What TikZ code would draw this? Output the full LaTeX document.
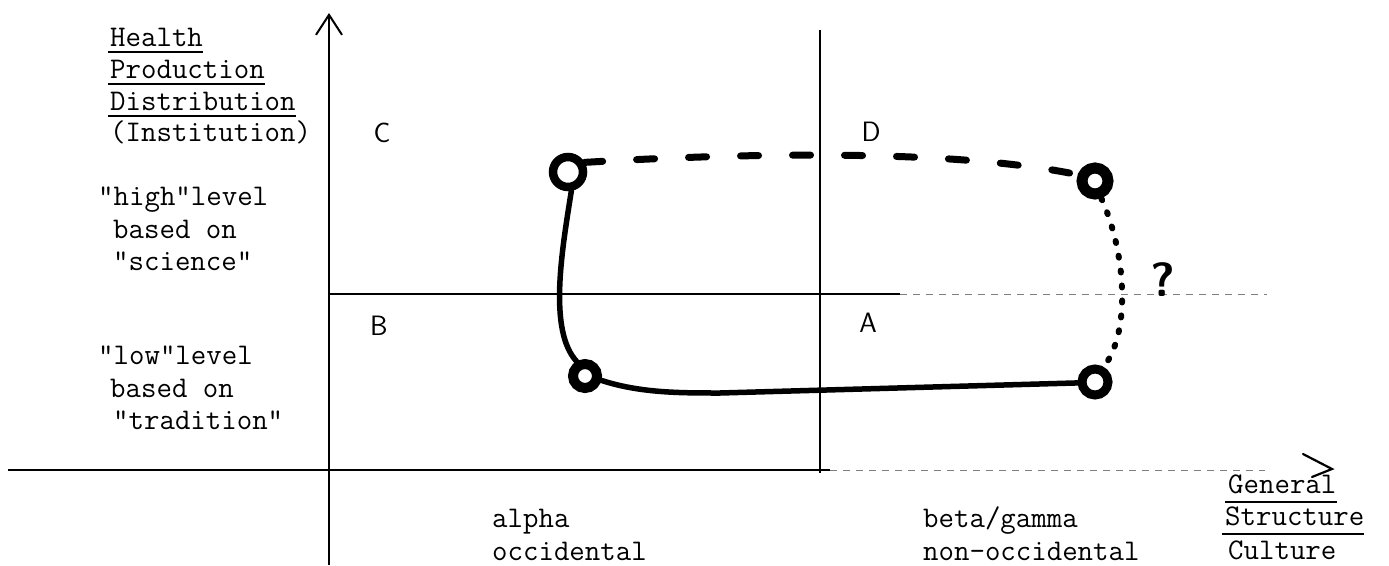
\documentclass[tikz,border=0pt]{standalone}
\usetikzlibrary{arrows.meta, calc}

\begin{document}
\begin{tikzpicture}[x=1pt, y=-1pt,
    axis/.style={line width=2.2pt, black},
    grid/.style={line width=1.3pt, black},
    faint/.style={line width=1pt, black!50, dash pattern=on 7pt off 6pt},
    txt/.style={anchor=base west, inner sep=0pt, font=\fontsize{30}{32}\selectfont\ttfamily},
    uline/.style={line width=1.6pt},
    quad/.style={inner sep=0pt, font=\fontsize{28}{28}\selectfont\sffamily},
    ring/.style={circle, draw, inner sep=0pt, minimum size=#1},
    solidlink/.style={line width=5.5pt, line cap=round},
    dashlink/.style={line width=7pt, line cap=round, dash pattern=on 18pt off 34pt},
    dotlink/.style={line width=6pt, line cap=round, dash pattern=on 2pt off 13pt}
]
\path[use as bounding box, fill=white] (0,0) rectangle (1389,565);

% Axes
\draw[axis, -{Straight Barb[length=20pt, width=26pt, line width=2pt]}] (329,565) -- (329,13);
\draw[axis] (8,470) -- (830,470);
\draw[faint] (830,470) -- (1265,470);
\draw[axis, line cap=round] (1303,454) -- (1332,469) -- (1312,477);

% Quadrant lines
\draw[grid] (820,30) -- (820,473);
\draw[grid] (330,294) -- (900,294);
\draw[faint] (900,294) -- (1267,294);

% Quadrant letters
\node[quad] (qc) at (382,133) {C};
\node[quad] (qd) at (871,132) {D};
\node[quad] (qb) at (379,326) {B};
\node[quad] (qa) at (868,323) {A};

% Vertical axis labels
\node[txt] (h1) at (110,46) {Health};
\node[txt] (h2) at (110,78) {Production};
\node[txt] (h3) at (110,110) {Distribution};
\node[txt] (h4) at (110,141) {(Institution)};
\foreach \n in {h1,h2,h3}
    \draw[uline] ($(\n.base west)+(-2,6)$) -- ($(\n.base east)+(0,6)$);

\node[txt] (hi1) at (98,205) {"high"level};
\node[txt] (hi2) at (113,238) {based on};
\node[txt] (hi3) at (113,270) {"science"};

\node[txt] (lo1) at (98,364) {"low"level};
\node[txt] (lo2) at (110,397) {based on};
\node[txt] (lo3) at (113,429) {"tradition"};

% Horizontal axis labels
\node[txt] (al1) at (492,527) {alpha};
\node[txt] (al2) at (492,560) {occidental};
\node[txt] (be1) at (923,527) {beta/gamma};
\node[txt] (be2) at (923,560) {non-occidental};

\node[txt] (g1) at (1228,493) {General};
\node[txt] (g2) at (1225,525) {Structure};
\node[txt] (g3) at (1228,559) {Culture};
\foreach \n in {g1,g2}
    \draw[uline] ($(\n.base west)+(-3,9)$) -- ($(\n.base east)+(0,9)$);

% Positions
\node[ring=30pt, line width=8.5pt] (tl) at (568,172) {};
\node[ring=24pt, line width=10pt] (bl) at (585,376) {};
\node[ring=26pt, line width=11pt] (tr) at (1095,181) {};
\node[ring=26pt, line width=9pt] (br) at (1095,382) {};

% Links
\draw[dashlink] (tl.30) .. controls (760,152) and (960,150) .. (tr.160);
\draw[solidlink] (tl.280) .. controls (562,250) and (548,330) .. (bl.120);
\draw[solidlink] (bl.-15) .. controls (640,393) and (680,393) .. (720,393) -- (br.183);
\draw[dotlink] (tr.-70) .. controls (1125,250) and (1132,330) .. (br.60);

\node[anchor=base, inner sep=0pt, font=\fontsize{48}{48}\selectfont\sffamily\bfseries] (qm) at (1163,296) {?};

\end{tikzpicture}
\end{document}
